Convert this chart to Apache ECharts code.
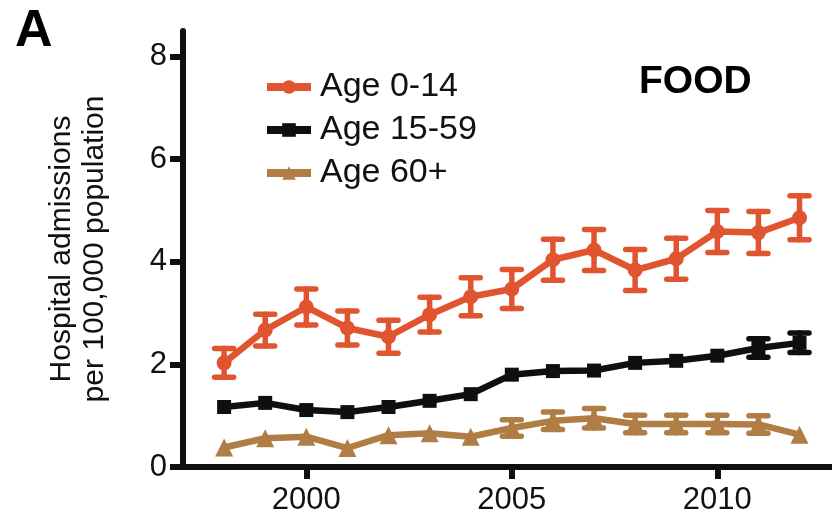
<!DOCTYPE html>
<html>
<head>
<meta charset="utf-8">
<script src="https://cdn.jsdelivr.net/npm/echarts@6/dist/echarts.min.js"></script>
<style>
html,body{margin:0;padding:0;background:#fff;}
#chart{width:832px;height:523px;}
</style>
</head>
<body>
<div id="chart"></div>
<script>
// ---- data ----
var years = [1998, 1999, 2000, 2001, 2002, 2003, 2004, 2005, 2006, 2007, 2008, 2009, 2010, 2011, 2012];
var age0_14 = [2.03, 2.67, 3.12, 2.71, 2.54, 2.97, 3.32, 3.47, 4.04, 4.23, 3.84, 4.06, 4.59, 4.57, 4.86];
var age0_14Err = [0.28, 0.31, 0.35, 0.33, 0.32, 0.34, 0.37, 0.38, 0.40, 0.40, 0.40, 0.40, 0.41, 0.41, 0.43];
var age15_59 = [1.17, 1.25, 1.11, 1.07, 1.17, 1.29, 1.42, 1.80, 1.87, 1.88, 2.03, 2.07, 2.17, 2.32, 2.42];
var age15_59Err = [0.04, 0.04, 0.04, 0.04, 0.04, 0.04, 0.05, 0.05, 0.05, 0.05, 0.05, 0.05, 0.06, 0.18, 0.19];
var age60 = [0.38, 0.56, 0.59, 0.37, 0.62, 0.66, 0.59, 0.76, 0.90, 0.95, 0.84, 0.84, 0.84, 0.83, 0.63];
var age60Err = [0.04, 0.04, 0.04, 0.04, 0.04, 0.05, 0.05, 0.16, 0.17, 0.19, 0.17, 0.17, 0.17, 0.17, 0.06];
var seriesNames = ['Age 0-14', 'Age 15-59', 'Age 60+'];
var xTicks = [2000, 2005, 2010];
var yTicks = [0, 2, 4, 6, 8];
var panelLabel = 'A';
var panelTitle = 'FOOD';
var yTitle = 'Hospital admissions\nper 100,000 population';

// ---- styles ----
var colors = ['#E0552F', '#0f0f0f', '#B07E45'];
var FONT = '"Liberation Sans", Arial, Helvetica, sans-serif';
var MARKER_HALF = 7; // error bars hidden beneath the marker are not drawn (as in the source plot)

function pairs(vals) { return years.map(function (y, i) { return [y, vals[i]]; }); }
function errData(vals, errs) { return years.map(function (y, i) { return [y, vals[i] - errs[i], vals[i] + errs[i]]; }); }

function errorSeries(name, vals, errs, color) {
  return {
    type: 'custom',
    name: name,
    data: errData(vals, errs),
    z: 2,
    silent: true,
    renderItem: function (params, api) {
      var x = api.value(0);
      var lo = api.coord([x, api.value(1)]);
      var hi = api.coord([x, api.value(2)]);
      if ((lo[1] - hi[1]) / 2 < MARKER_HALF) { return null; }
      var hw = 9.5;
      var st = { stroke: color, lineWidth: 5.5, lineCap: 'round' };
      return {
        type: 'group',
        children: [
          { type: 'line', shape: { x1: hi[0], y1: hi[1], x2: lo[0], y2: lo[1] }, style: st },
          { type: 'line', shape: { x1: hi[0] - hw, y1: hi[1], x2: hi[0] + hw, y2: hi[1] }, style: st },
          { type: 'line', shape: { x1: lo[0] - hw, y1: lo[1], x2: lo[0] + hw, y2: lo[1] }, style: st }
        ]
      };
    }
  };
}

function lineSeries(name, vals, color, symbol, size) {
  return {
    type: 'line',
    name: name,
    data: pairs(vals),
    symbol: symbol,
    symbolSize: size,
    showAllSymbol: true,
    z: 3,
    lineStyle: { color: color, width: 6.5 },
    itemStyle: { color: color, opacity: 1 },
    emphasis: { disabled: true },
    animation: false
  };
}

var chart = echarts.init(document.getElementById('chart'), null, { renderer: 'canvas' });
chart.setOption({
  animation: false,
  backgroundColor: '#ffffff',
  textStyle: { fontFamily: FONT },
  title: [
    { text: panelLabel, left: 10, top: 1, textStyle: { fontFamily: FONT, fontSize: 52, fontWeight: 'bold', color: '#000' } },
    { text: panelTitle, left: 634, top: 58, textStyle: { fontFamily: FONT, fontSize: 39, fontWeight: 'bold', color: '#000' } }
  ],
  legend: {
    data: seriesNames,
    orient: 'vertical',
    left: 258,
    top: 65,
    itemWidth: 44,
    itemHeight: 17,
    itemGap: 9,
    selectedMode: false,
    lineStyle: { width: 8 },
    textStyle: { fontFamily: FONT, fontSize: 34, color: '#111', padding: [0, 0, 0, 4] }
  },
  grid: { left: 183, right: 0, top: 31, bottom: 56, containLabel: false },
  xAxis: {
    type: 'value',
    min: 1997,
    max: 2012.79,
    splitLine: { show: false },
    axisLine: { lineStyle: { color: '#0f0f0f', width: 6 } },
    axisTick: { customValues: xTicks, length: 12, lineStyle: { color: '#0f0f0f', width: 6 } },
    axisLabel: { customValues: xTicks, formatter: function (v) { return String(v); }, fontFamily: FONT, fontSize: 31, color: '#111', margin: 18 }
  },
  yAxis: {
    type: 'value',
    min: 0,
    max: 8.5,
    splitLine: { show: false },
    axisLine: { show: true, lineStyle: { color: '#0f0f0f', width: 6 } },
    axisTick: { show: true, customValues: yTicks, length: 13, lineStyle: { color: '#0f0f0f', width: 6 } },
    axisLabel: { customValues: yTicks, fontFamily: FONT, fontSize: 31, color: '#111', margin: 16 },
    name: yTitle,
    nameLocation: 'middle',
    nameGap: 72,
    nameTextStyle: { fontFamily: FONT, fontSize: 30, lineHeight: 33, color: '#111', align: 'center' }
  },
  series: [
    errorSeries('Age 0-14 err', age0_14, age0_14Err, colors[0]),
    errorSeries('Age 15-59 err', age15_59, age15_59Err, colors[1]),
    errorSeries('Age 60+ err', age60, age60Err, colors[2]),
    lineSeries(seriesNames[0], age0_14, colors[0], 'circle', 15),
    lineSeries(seriesNames[1], age15_59, colors[1], 'rect', 14),
    lineSeries(seriesNames[2], age60, colors[2], 'triangle', 18)
  ]
});
</script>
</body>
</html>
